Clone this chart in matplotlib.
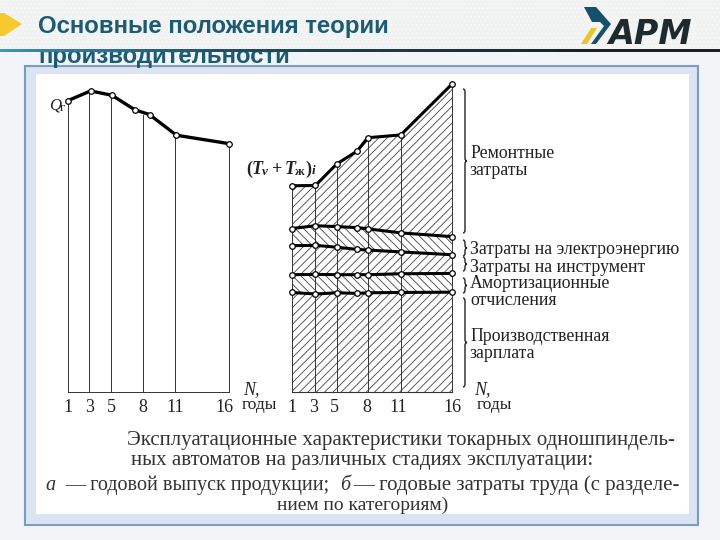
import matplotlib
matplotlib.use("Agg")
import matplotlib.pyplot as plt
from matplotlib.patches import Rectangle, Polygon, PathPatch
from matplotlib.path import Path

W, H = 720, 540
# ---------- data ----------
year_ticks = [1, 3, 5, 8, 11, 16]
left_years = [1, 3.1, 5.1, 7.2, 8.6, 11.1, 16]
left_output = [93.4, 96.5, 95.1, 90.5, 88.9, 82.3, 79.6]

right_years = [1, 3.2, 5.2, 7.1, 8.1, 11.2, 16]
band_1 = [31.9, 31.4, 31.8, 31.6, 31.8, 31.9, 32.0]
band_2 = [37.6, 37.7, 37.6, 37.6, 37.6, 37.9, 38.0]
band_3 = [46.9, 47.0, 46.4, 45.7, 45.5, 44.9, 44.0]
band_4 = [52.4, 53.3, 53.0, 52.7, 52.3, 51.0, 49.8]
band_top = [66.1, 66.2, 73.1, 77.2, 81.5, 82.4, 98.7]
bands = [band_1, band_2, band_3, band_4, band_top]
band_hatch = ['////', '\\\\\\\\', '////', '\\\\\\\\', '////']

cost_labels = [("Ремонтные\nзатраты", 470, 162), ("Затраты на электроэнергию", 470, 250),
               ("Затраты на инструмент", 470, 267), ("Амортизационные\nотчисления", 470, 292),
               ("Производственная\nзарплата", 470, 345)]
caption = [("Эксплуатационные характеристики токарных одношпиндель-", 127, 441, 15),
           ("ных автоматов на различных стадиях эксплуатации:", 131, 461, 15),
           ("— годовой выпуск продукции;", 65, 485, 14.5),
           ("— годовые затраты труда (с разделе-", 353, 485, 15),
           ("нием по категориям)", 277, 505, 14)]

SERIF = "Liberation Serif"
INK = "#222222"
fig = plt.figure(figsize=(W / 100, H / 100), dpi=100, facecolor="#f2f5f8")

def px_axes(x0, y0, x1, y1):
    return fig.add_axes([x0 / W, 1 - y1 / H, (x1 - x0) / W, (y1 - y0) / H])

bg = px_axes(0, 0, W, H)
bg.set_xlim(0, W); bg.set_ylim(H, 0); bg.axis("off")

# page decoration
plt.rcParams['hatch.linewidth'] = 0.5
bg.add_patch(Rectangle((0, 0), W, 50, fc="#f1f2f2", ec="#fbfbfb", hatch="....", lw=0))
bg.add_patch(Rectangle((25, 66), 673, 459, fc="#dbe5f1", ec="#7d9bc1", lw=1.5))
bg.add_patch(Rectangle((36, 74), 653, 440, fc="white", ec="none"))
bg.add_patch(Polygon([(0, 13), (4, 13), (22, 24), (4, 36), (0, 36)], fc="#f6c92c", ec="none"))

# title (the header rule runs over the second line)
bg.text(38, 27, "Основные положения теории", family="Liberation Sans", weight="bold",
        fontsize=17.3, color="#1d5b72", va="center", zorder=3)
bg.text(38, 56, "производительности", family="Liberation Sans", weight="bold",
        fontsize=17.3, color="#1d5b72", va="center", zorder=3)
stops = [(0, (0.16, 0.62, 0.80)), (60, (0.12, 0.50, 0.66)), (250, (0.09, 0.30, 0.38)), (600, (0.10, 0.12, 0.13)), (720, (0.10, 0.12, 0.13))]
for (x0, c0), (x1, c1) in zip(stops[:-1], stops[1:]):
    n = 24
    for k in range(n):
        t = k / n
        c = tuple(a + (b - a) * t for a, b in zip(c0, c1))
        bg.add_patch(Rectangle((x0 + (x1 - x0) * t, 48.7), (x1 - x0) / n + 0.5, 3, fc=c, ec="none", zorder=4))

# logo
bg.add_patch(Polygon([(584, 7), (596, 7), (611, 24), (596, 44), (591, 44), (604, 26), (600, 22), (592, 22)],
                     fc="#17506a", ec="none"))
bg.add_patch(Polygon([(581, 44), (587, 44), (597, 28), (591, 28)], fc="#e9c62b", ec="none"))
bg.text(608, 35, "АРМ", family="DejaVu Sans", weight="bold", style="oblique", fontsize=24,
        color="#1f2a2e", va="center")

# left panel
ax = px_axes(68, 80, 229, 392)
ax.set_xlim(1, 16); ax.set_ylim(0, 100); ax.axis("off")
for yr in year_ticks:
    top = next(v for y, v in sorted(zip(left_years, left_output), key=lambda p: abs(p[0] - yr)))
    ax.plot([yr, yr], [0, top], color="#333333", lw=0.7, clip_on=False)
ax.plot([1, 16], [0, 0], color="#333333", lw=0.7, clip_on=False)
ax.plot(left_years, left_output, color="black", lw=2.4, marker="o", ms=4.0, mfc="white",
        mec="black", mew=0.9, clip_on=False, zorder=5)

# right panel
ax2 = px_axes(292, 80, 452, 392)
ax2.set_xlim(1, 16); ax2.set_ylim(0, 100); ax2.axis("off")
lower = [0] * len(right_years)
plt.rcParams['hatch.linewidth'] = 0.6
for vals, h in zip(bands, band_hatch):
    ax2.fill_between(right_years, lower, vals, facecolor="none", edgecolor="#444444", hatch=h, lw=0)
    lower = vals
for yr in year_ticks:
    i = min(range(len(right_years)), key=lambda k: abs(right_years[k] - yr))
    ax2.plot([right_years[i]] * 2, [0, band_top[i]], color="#333333", lw=0.7, clip_on=False)
ax2.plot([1, 16], [0, 0], color="#333333", lw=0.8, clip_on=False)
for vals in bands:
    ax2.plot(right_years, vals, color="black", lw=2.2, marker="o", ms=4.0, mfc="white",
             mec="black", mew=0.9, clip_on=False, zorder=5)

# tick labels
for yr in year_ticks:
    dx = -3.6 if yr == 16 else 0
    ax.annotate(str(yr), (yr, 0), xytext=(dx, -11), textcoords="offset points", ha="center", va="center",
                family=SERIF, fontsize=13, color=INK, annotation_clip=False)
    ax2.annotate(str(yr), (yr, 0), xytext=(0, -11), textcoords="offset points", ha="center", va="center",
                 family=SERIF, fontsize=13, color=INK, annotation_clip=False)

# axis annotations
for x in (243, 474):
    bg.text(x, 390, "N,", family=SERIF, style="italic", fontsize=13, color=INK, va="center")
bg.text(242, 405, "годы", family=SERIF, fontsize=12.5, color=INK, va="center")
bg.text(477, 405, "годы", family=SERIF, fontsize=12.5, color=INK, va="center")
bg.text(49, 105, "Q", family=SERIF, style="italic", fontsize=12, color=INK, va="center")
bg.text(59.5, 108, "г", family=SERIF, fontsize=9.5, color=INK, va="center")
for s, x, y, size, st in [("(", 246, 169, 13, "normal"), ("T", 252, 169, 13, "italic"),
                          ("v", 262, 172, 9.5, "italic"), ("+", 272, 169, 13, "normal"),
                          ("T", 285, 169, 13, "italic"), ("ж", 295, 172, 9.5, "normal"),
                          (")", 305, 169, 13, "normal"), ("i", 312, 171, 9.5, "italic")]:
    bg.text(x, y, s, family=SERIF, weight="bold", style=st, fontsize=size, color=INK, va="center")

# cost labels
for s, x, y in cost_labels:
    bg.text(x, y, s, family=SERIF, fontsize=12.8, color=INK, va="center", linespacing=1.02)

# braces
def brace(y0, y1, x=463, w=4):
    m = (y0 + y1) / 2
    r = min(3, (y1 - y0) / 4)
    verts = [(x, y0), (x + w / 2, y0), (x + w / 2, y0 + r),
             (x + w / 2, m - r), (x + w / 2, m), (x + w, m),
             (x + w / 2, m), (x + w / 2, m + r),
             (x + w / 2, y1 - r), (x + w / 2, y1), (x, y1)]
    codes = [Path.MOVETO, Path.CURVE3, Path.CURVE3, Path.LINETO, Path.CURVE3, Path.CURVE3,
             Path.CURVE3, Path.CURVE3, Path.LINETO, Path.CURVE3, Path.CURVE3]
    bg.add_patch(PathPatch(Path(verts, codes), fc="none", ec=INK, lw=1.0, zorder=6))

for a, b in [(89, 233), (240, 256), (257, 271), (278, 293), (298, 387)]:
    brace(a, b)

# caption
for s, x, y, size in caption:
    bg.text(x, y, s, family=SERIF, fontsize=size, color="#333333", va="center")
bg.text(45, 485, "а", family=SERIF, style="italic", fontsize=14.5, color="#333333", va="center")
bg.text(340, 485, "б", family=SERIF, style="italic", fontsize=14.5, color="#333333", va="center")

fig.savefig("out.png", dpi=100)
